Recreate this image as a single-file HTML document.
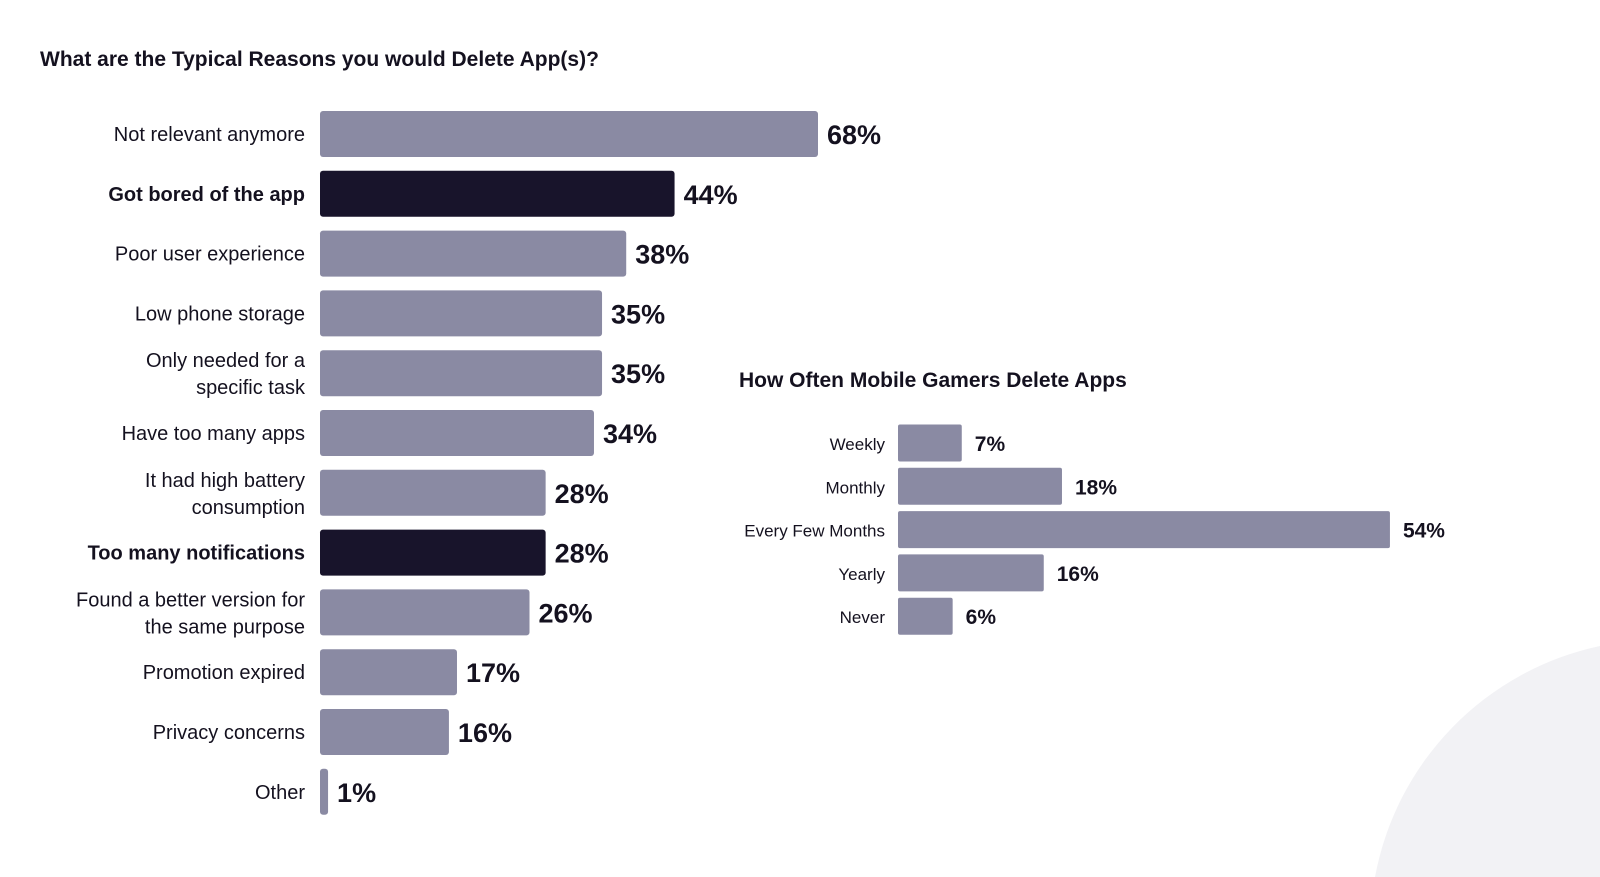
<!DOCTYPE html>
<html><head><meta charset="utf-8">
<style>
html,body{margin:0;padding:0;background:#fff;width:1600px;height:877px;overflow:hidden;}
body{position:relative;font-family:"Liberation Sans",sans-serif;}
svg{display:block;}
svg text{font-family:"Liberation Sans",sans-serif;}
</style></head>
<body>
<svg id="chart" width="1600" height="877">
<path d="M1375,877 A290,290 0 0 1 1600,646 L1600,877 Z" fill="#f2f2f5"/>
<text x="40" y="66" font-size="21" font-weight="bold" fill="#14111f">What are the Typical Reasons you would Delete App(s)?</text>
<text x="739" y="387" font-size="21" font-weight="bold" fill="#14111f">How Often Mobile Gamers Delete Apps</text>
<g id="left"></g>
<g id="right"></g>
</svg>
<script>
const reasons = [["Not relevant anymore"],["Got bored of the app"],["Poor user experience"],["Low phone storage"],["Only needed for a","specific task"],["Have too many apps"],["It had high battery","consumption"],["Too many notifications"],["Found a better version for","the same purpose"],["Promotion expired"],["Privacy concerns"],["Other"]];
const reasonValues = [68,44,38,35,35,34,28,28,26,17,16,1];
const highlighted = [false,true,false,false,false,false,false,true,false,false,false,false];
const freqCategories = ["Weekly","Monthly","Every Few Months","Yearly","Never"];
const freqValues = [7,18,54,16,6];

const NS="http://www.w3.org/2000/svg";
function mk(tag,attrs,parent){const e=document.createElementNS(NS,tag);for(const k in attrs)e.setAttribute(k,attrs[k]);parent.appendChild(e);return e;}
const GRAY="#8a8aa3", DARK="#18142b";

const lx0=320, lxMax=818, lDomainMax=61.8;
function lx(v){return lx0+Math.min(v,lDomainMax)/lDomainMax*(lxMax-lx0);}
function ly(i){return 134+i*59.8;}
const L=document.getElementById('left');
reasonValues.forEach((v,i)=>{
  const cy=ly(i);
  const r=mk('rect',{x:lx0,y:cy-23,width:lx(v)-lx0,height:46,rx:3,fill:highlighted[i]?DARK:GRAY},L);
  
  
  const t=mk('text',{x:lx(v)+9,y:cy+10,'font-size':27,'font-weight':'bold',fill:'#14111f'},L);
  t.textContent=v+'%';
  
  
  const lines=reasons[i];
  const lab=mk('text',{x:305,'text-anchor':'end','font-size':20,fill:'#14111f','font-weight':highlighted[i]?'bold':'normal'},L);
  
  
  lines.forEach((s,k)=>{const ts=mk('tspan',{x:305,y:cy+7+(lines.length===2?(k===0?-13:14):0)},lab);ts.textContent=s;});
});

const rx0=898, rPerUnit=9.11;
function rx(v){return rx0+v*rPerUnit;}
function ry(i){return 443+i*43.3;}
const R=document.getElementById('right');
freqValues.forEach((v,i)=>{
  const cy=ry(i);
  const r=mk('rect',{x:rx0,y:cy-18.5,width:rx(v)-rx0,height:37,rx:2,fill:GRAY},R);
  
  
  const t=mk('text',{x:rx(v)+13,y:cy+8,'font-size':21,'font-weight':'bold',fill:'#14111f'},R);
  t.textContent=v+'%';
  
  
  const lab=mk('text',{x:885,y:cy+7,'text-anchor':'end','font-size':17,fill:'#14111f'},R);
  lab.textContent=freqCategories[i];
  
  
});
</script>
</body></html>
